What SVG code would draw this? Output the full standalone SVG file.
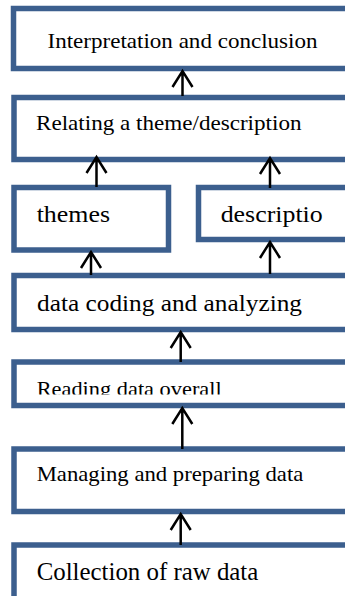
<svg xmlns="http://www.w3.org/2000/svg" width="345" height="596" viewBox="0 0 345 596">
<style>
.box{fill:#fff;stroke:#3c5f8e;stroke-width:5.5}
.lbl{font-family:"Liberation Serif","Times New Roman",serif;fill:#000}
.arr{stroke:#000;stroke-width:2.5;fill:none}
</style>
<defs>
<clipPath id="clipR"><rect x="0" y="360" width="345" height="34.5"/></clipPath>
</defs>
<rect width="345" height="596" fill="#fff"/>
<g id="n1"><rect class="box" x="13.5" y="8.5" width="340" height="60"/><text class="lbl" x="47.5" y="47.5" font-size="21.5" textLength="270" lengthAdjust="spacingAndGlyphs">Interpretation and conclusion</text></g>
<g id="n2"><rect class="box" x="14" y="97.5" width="340" height="62"/><text class="lbl" x="36" y="130" font-size="21" textLength="265.5" lengthAdjust="spacingAndGlyphs">Relating a theme/description</text></g>
<g id="n3"><rect class="box" x="14" y="187.5" width="154.5" height="62.5"/><text class="lbl" x="36.7" y="222.3" font-size="23" textLength="73.3" lengthAdjust="spacingAndGlyphs">themes</text></g>
<g id="n4"><rect class="box" x="198.5" y="187.5" width="160" height="52"/><text class="lbl" x="220.7" y="222.3" font-size="23" textLength="102" lengthAdjust="spacingAndGlyphs">descriptio</text></g>
<g id="n5"><rect class="box" x="14" y="275.5" width="340" height="54"/><text class="lbl" x="37" y="310.7" font-size="24" textLength="265" lengthAdjust="spacingAndGlyphs">data coding and analyzing</text></g>
<g id="n6"><rect class="box" x="14" y="362" width="340" height="43.5"/><text class="lbl" x="36.7" y="395.5" font-size="21" textLength="185" lengthAdjust="spacingAndGlyphs" clip-path="url(#clipR)">Reading data overall</text></g>
<g id="n7"><rect class="box" x="14" y="449" width="340" height="62.5"/><text class="lbl" x="36.7" y="480.7" font-size="21.5" textLength="266.6" lengthAdjust="spacingAndGlyphs">Managing and preparing data</text></g>
<g id="n8"><rect class="box" x="14" y="545" width="340" height="60"/><text class="lbl" x="36.7" y="580" font-size="25" textLength="221.6" lengthAdjust="spacingAndGlyphs">Collection of raw data</text></g>
<g id="connectors" class="arr">
<path d="M182.5,96 V71 M172.5,87 L182.5,71 L192.5,87"/>
<path d="M96.5,187 V157 M86.5,173 L96.5,157 L106.5,173"/>
<path d="M270,188 V158 M260,174 L270,158 L280,174"/>
<path d="M91,275 V252 M81,268 L91,252 L101,268"/>
<path d="M270,274 V242 M260,258 L270,242 L280,258"/>
<path d="M180.7,362 V332 M170.7,348 L180.7,332 L190.7,348"/>
<path d="M182.3,449 V408 M172.3,424 L182.3,408 L192.3,424"/>
<path d="M180.7,545 V514 M170.7,530 L180.7,514 L190.7,530"/>
</g>
</svg>
